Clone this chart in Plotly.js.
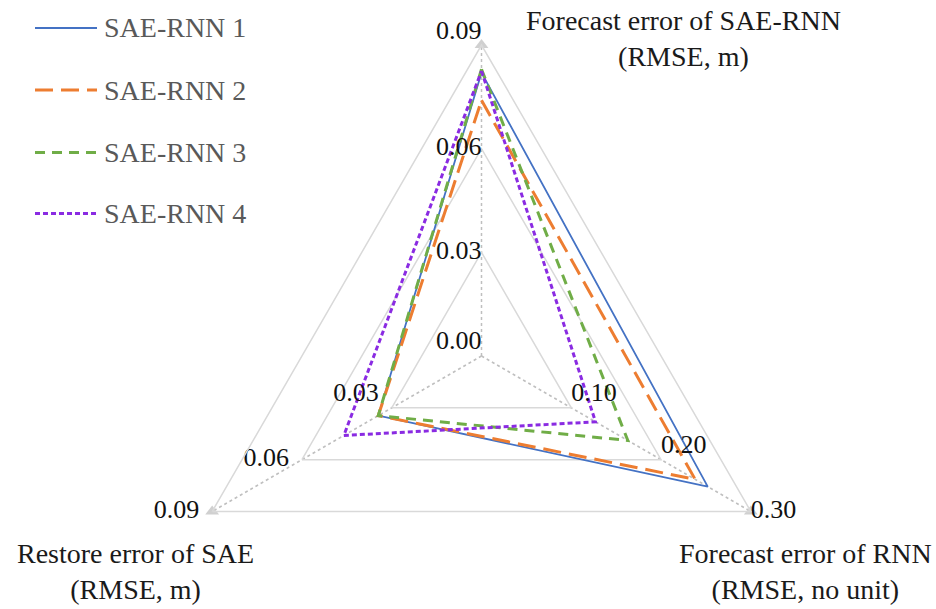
<!DOCTYPE html>
<html>
<head>
<meta charset="utf-8">
<script src="https://cdn.plot.ly/plotly-3.0.1.min.js"></script>
<style>
html,body{margin:0;padding:0;background:#fff;overflow:hidden;}
#chart{width:936px;height:720px;}
</style>
</head>
<body>
<div id="chart"></div>
<script>
// ---- data ----
var categories = ["Forecast error of SAE-RNN", "Forecast error of RNN", "Restore error of SAE"];
var axisTitles = ["Forecast error of SAE-RNN<br>(RMSE, m)", "Forecast error of RNN<br>(RMSE, no unit)", "Restore error of SAE<br>(RMSE, m)"];
var axisMax = [0.09, 0.30, 0.09];
var tickValsTop = [0.00, 0.03, 0.06, 0.09];
var tickValsRight = [0.10, 0.20, 0.30];
var tickValsLeft = [0.03, 0.06, 0.09];
var seriesNames = ["SAE-RNN 1", "SAE-RNN 2", "SAE-RNN 3", "SAE-RNN 4"];
var sae1 = [0.082, 0.252, 0.0345];
var sae2 = [0.074, 0.238, 0.0345];
var sae3 = [0.083, 0.163, 0.0345];
var sae4 = [0.0825, 0.127, 0.046];
var seriesValues = [sae1, sae2, sae3, sae4];

// ---- styles ----
var colors = ["#4472C4", "#ED7D31", "#70AD47", "#8A2BE2"];
var dashes = ["solid", "18px,8px", "10px,7px", "5px,3px"];
var widths = [1.8, 3, 3, 3];
var serif = "Liberation Serif";

var W = 936, H = 720;
function px(x){ return x / W; }
function py(y){ return 1 - y / H; }

var traces = [];
seriesValues.forEach(function(vals, k){
  var r = vals.map(function(v, i){ return v / axisMax[i]; });
  r.push(r[0]);
  var th = categories.concat([categories[0]]);
  traces.push({
    type: "scatterpolar", mode: "lines", name: seriesNames[k],
    r: r, theta: th, showlegend: false,
    line: {color: colors[k], width: widths[k], dash: dashes[k]},
    hoverinfo: "skip"
  });
});

// axis-end triangles
traces.push({
  type: "scatterpolar", mode: "markers", r: [1, 1, 1], theta: categories,
  marker: {symbol: "triangle-up", size: 12, color: "#d0d0d0"},
  showlegend: false, hoverinfo: "skip", cliponaxis: false
});

// tick labels along each axis
// (a label exactly at the polygon origin is culled by Plotly, so the radius is floored at a hair above 0)
function fmt(v){ return v.toFixed(2); }
function tickTrace(vals, axisIdx, positions, suffix){
  return {
    type: "scatterpolar", mode: "text",
    r: vals.map(function(v){ return Math.max(v / axisMax[axisIdx], 0.002); }),
    theta: vals.map(function(){ return categories[axisIdx]; }),
    text: vals.map(function(v){ return fmt(v) + (suffix || ""); }),
    textposition: positions,
    textfont: {family: serif, size: 26, color: "#111"},
    showlegend: false, hoverinfo: "skip", cliponaxis: false
  };
}
traces.push(tickTrace(tickValsTop, 0, ["top left", "middle left", "middle left", "top left"]));
traces.push(tickTrace(tickValsRight, 1, ["top right", "top right", "middle right"]));
traces.push(tickTrace(tickValsLeft, 2, ["top left", "middle left", "middle left"], "\u00a0\u00a0"));

var cx = 481.5, cy = 356, R = 311;
var layout = {
  width: W, height: H,
  margin: {l: 0, r: 0, t: 0, b: 0},
  paper_bgcolor: "#fff",
  font: {family: serif},
  showlegend: false,
  polar: {
    domain: {x: [px(cx - R), px(cx + R)], y: [py(cy + R), py(cy - R)]},
    gridshape: "linear",
    bgcolor: "rgba(0,0,0,0)",
    radialaxis: {
      range: [0, 1], tickvals: [1/3, 2/3, 1], showticklabels: false, ticks: "",
      showline: false, gridcolor: "#d9d9d9", gridwidth: 1.5
    },
    angularaxis: {
      type: "category", categoryarray: categories,
      direction: "clockwise", rotation: 90,
      showticklabels: false, ticks: "",
      showline: true, linecolor: "#d9d9d9", linewidth: 1.5,
      gridcolor: "#bfbfbf", gridwidth: 1.5, griddash: "dot"
    }
  },
  shapes: [],
  annotations: []
};

// title annotations
var titlePos = [[683, 38], [805, 571], [135, 571]];
axisTitles.forEach(function(t, i){
  layout.annotations.push({
    xref: "paper", yref: "paper", x: px(titlePos[i][0]), y: py(titlePos[i][1]),
    xanchor: "center", yanchor: "middle", showarrow: false, text: t,
    font: {family: serif, size: 28, color: "#1a1a1a"}
  });
});

// legend
var legY = [28, 90, 152.5, 213.5];
seriesNames.forEach(function(n, k){
  layout.shapes.push({
    type: "line", xref: "paper", yref: "paper",
    x0: px(35), x1: px(97), y0: py(legY[k]), y1: py(legY[k]),
    line: {color: colors[k], width: widths[k], dash: dashes[k]}
  });
  layout.annotations.push({
    xref: "paper", yref: "paper", x: px(102), y: py(legY[k]),
    xanchor: "left", yanchor: "middle", showarrow: false, text: n,
    font: {family: serif, size: 28, color: "#595959"}
  });
});

Plotly.newPlot("chart", traces, layout, {staticPlot: true, displayModeBar: false});
</script>
</body>
</html>
